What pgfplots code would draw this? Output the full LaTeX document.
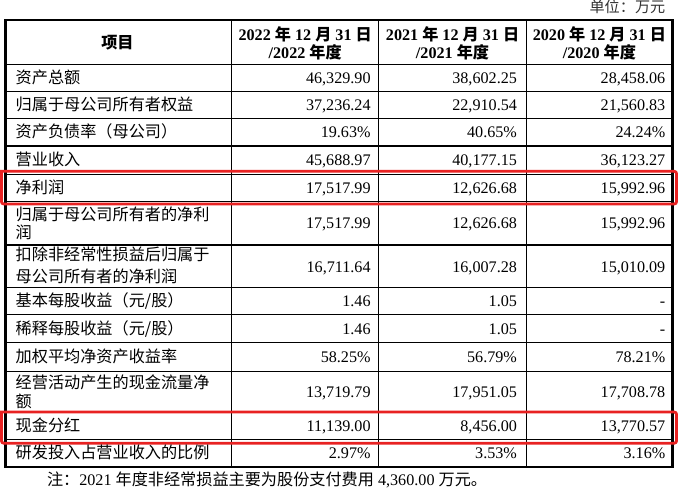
\documentclass[border=0pt]{standalone}
\usepackage{fontspec}
\setmainfont{Liberation Serif}
\newfontfamily\cjk{Noto Sans CJK SC}
\usepackage{pgfplots}
\usepackage{pgfplotstable}
\pgfplotsset{compat=1.18}
\definecolor{boxred}{HTML}{E82222}

\begin{document}
% first column: row labels (x, baseline y)
\pgfplotstableread[col sep=semicolon, row sep=\\]{
x;y;t\\
17;90;资产总额\\
17;117;归属于母公司所有者权益\\
17;144;资产负债率（母公司）\\
17;171.5;营业收入\\
17;199;净利润\\
17;225.5;归属于母公司所有者的净利\\
17;243.5;润\\
17;265.5;扣除非经常性损益后归属于\\
17;287.5;母公司所有者的净利润\\
17;311;基本每股收益（元/股）\\
17;338.5;稀释每股收益（元/股）\\
17;366.5;加权平均净资产收益率\\
17;392.5;经营活动产生的现金流量净\\
17;411.5;额\\
17;434.5;现金分红\\
17;462;研发投入占营业收入的比例\\
}\labels

% values, right aligned at column end
\pgfplotstableread[col sep=semicolon, row sep=\\]{
x;y;t\\
369;90;46,329.90\\
514;90;38,602.25\\
661;90;28,458.06\\
369;117;37,236.24\\
514;117;22,910.54\\
661;117;21,560.83\\
369;144;19.63\%\\
514;144;40.65\%\\
661;144;24.24\%\\
369;171.5;45,688.97\\
514;171.5;40,177.15\\
661;171.5;36,123.27\\
369;199;17,517.99\\
514;199;12,626.68\\
661;199;15,992.96\\
369;234;17,517.99\\
514;234;12,626.68\\
661;234;15,992.96\\
369;277;16,711.64\\
514;277;16,007.28\\
661;277;15,010.09\\
369;311;1.46\\
514;311;1.05\\
661;311;-\\
369;338.5;1.46\\
514;338.5;1.05\\
661;338.5;-\\
369;366.5;58.25\%\\
514;366.5;56.79\%\\
661;366.5;78.21\%\\
369;401;13,719.79\\
514;401;17,951.05\\
661;401;17,708.78\\
369;434.5;11,139.00\\
514;434.5;8,456.00\\
661;434.5;13,770.57\\
369;462;2.97\%\\
514;462;3.53\%\\
661;462;3.16\%\\
}\values

% header cells, centred
\pgfplotstableread[col sep=semicolon, row sep=\\]{
x;y;t\\
118;55.5;{\cjk 项目}\\
304;47.5;2022 {\cjk 年} 12 {\cjk 月} 31 {\cjk 日}\\
304;65.5;/2022 {\cjk 年度}\\
450;47.5;2021 {\cjk 年} 12 {\cjk 月} 31 {\cjk 日}\\
450;65.5;/2021 {\cjk 年度}\\
595.5;47.5;2020 {\cjk 年} 12 {\cjk 月} 31 {\cjk 日}\\
595.5;65.5;/2020 {\cjk 年度}\\
}\heads

\begin{tikzpicture}
\begin{axis}[
    scale only axis,
    width=678bp, height=499bp,
    xmin=0, xmax=678, ymin=0, ymax=499,
    y dir=reverse,
    axis lines=none,
    clip=false,
    unbounded coords=jump,
    every axis plot/.append style={line cap=rect},
]
% grid of the table
\addplot[black, line width=1.1bp] coordinates {
    (7,71) (668,71) (nan,nan)
    (7,98) (668,98) (nan,nan)
    (7,125) (668,125) (nan,nan)
    (7,152) (668,152) (nan,nan)
    (7,180) (668,180) (nan,nan)
    (7,207) (668,207) (nan,nan)
    (7,250) (668,250) (nan,nan)
    (7,292) (668,292) (nan,nan)
    (7,319) (668,319) (nan,nan)
    (7,347) (668,347) (nan,nan)
    (7,375) (668,375) (nan,nan)
    (7,415) (668,415) (nan,nan)
    (7,443) (668,443) (nan,nan)
    (231,27) (231,470) (nan,nan)
    (377,27) (377,470) (nan,nan)
    (523,27) (523,470)
};
\addplot[black, line width=2.2bp, line join=miter] coordinates {
    (7,27) (668,27) (668,470) (7,470) (7,27)
};
% red highlight boxes
\addplot[boxred, line width=2.8bp, rounded corners=2.5bp] coordinates {
    (3,177) (672,177) (672,209.5) (3,209.5) (3,177)
};
\addplot[boxred, line width=2.8bp, rounded corners=2.5bp] coordinates {
    (3,415.5) (672,415.5) (672,446.5) (3,446.5) (3,415.5)
};

% text
\addplot[draw=none, nodes near coords, point meta=explicit symbolic,
    nodes near coords style={anchor=base west, inner sep=0pt,
        font=\cjk\fontsize{16bp}{18bp}\selectfont}]
    table[x=x, y=y, meta=t] {\labels};
\addplot[draw=none, nodes near coords, point meta=explicit symbolic,
    nodes near coords style={anchor=base east, inner sep=0pt,
        font=\fontsize{16bp}{18bp}\selectfont}]
    table[x=x, y=y, meta=t] {\values};
\addplot[draw=none, nodes near coords, point meta=explicit symbolic,
    nodes near coords style={anchor=base, inner sep=0pt,
        font=\bfseries\fontsize{16bp}{18bp}\selectfont}]
    table[x=x, y=y, meta=t] {\heads};
\addplot[draw=none, nodes near coords, point meta=explicit symbolic,
    nodes near coords style={anchor=base east, inner sep=0pt,
        font=\cjk\fontsize{15bp}{18bp}\selectfont, text=black!80}]
    coordinates {(661,20) [单位：万元]};
\addplot[draw=none, nodes near coords, point meta=explicit symbolic,
    nodes near coords style={anchor=base west, inner sep=0pt,
        font=\fontsize{16bp}{18bp}\selectfont}]
    coordinates {(48,488.5) [{\cjk 注：}2021 {\cjk 年度非经常损益主要为股份支付费用} 4,360.00 {\cjk 万元。}]};
\end{axis}
\end{tikzpicture}
\end{document}
